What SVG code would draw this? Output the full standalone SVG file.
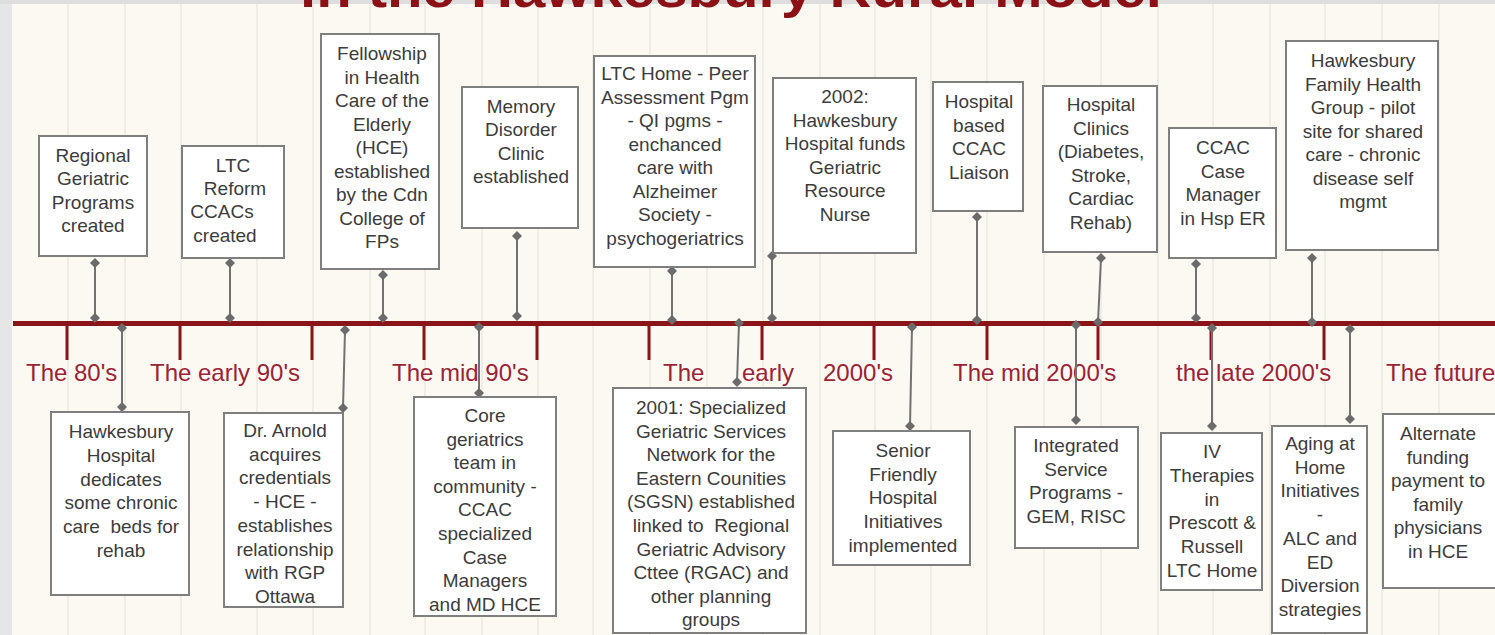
<svg xmlns="http://www.w3.org/2000/svg" width="1495" height="635" viewBox="0 0 1495 635">
<style>
.bg{fill:#fcf9f3}
.grid{stroke:#e4e0d9;stroke-width:1}
.box{fill:#ffffff;stroke:#7f7f7f;stroke-width:2}
.t{font-family:"Liberation Sans",Arial,sans-serif;font-size:19px;fill:#3c3c3c;text-anchor:middle}
.per{font-family:"Liberation Sans",Arial,sans-serif;font-size:24px;fill:#9b2335}
.tick{stroke:#8b1419;stroke-width:3}
.conn{stroke:#727272;stroke-width:2;fill:none;marker-start:url(#dia);marker-end:url(#dia)}
.title{font-family:"Liberation Sans",Arial,sans-serif;font-size:52px;font-weight:bold;fill:#8b1116}
</style>
<defs>
<marker id="dia" markerUnits="userSpaceOnUse" markerWidth="12" markerHeight="12" refX="6" refY="6" orient="0">
<path d="M6 1 L11 6 L6 11 L1 6 Z" fill="#6b6b6b"/>
</marker>
</defs>
<rect class="bg" x="0" y="0" width="1495" height="635"/>
<rect x="0" y="0" width="12" height="635" fill="#e6e6e6"/>
<rect x="0" y="0" width="1495" height="4" fill="#dedede"/>
<g id="grid">
<line class="grid" x1="68" y1="4" x2="68" y2="635"/>
<line class="grid" x1="125" y1="4" x2="125" y2="635"/>
<line class="grid" x1="181" y1="4" x2="181" y2="635"/>
<line class="grid" x1="257" y1="4" x2="257" y2="635"/>
<line class="grid" x1="313" y1="4" x2="313" y2="635"/>
<line class="grid" x1="370" y1="4" x2="370" y2="635"/>
<line class="grid" x1="425" y1="4" x2="425" y2="635"/>
<line class="grid" x1="482" y1="4" x2="482" y2="635"/>
<line class="grid" x1="538" y1="4" x2="538" y2="635"/>
<line class="grid" x1="593" y1="4" x2="593" y2="635"/>
<line class="grid" x1="650" y1="4" x2="650" y2="635"/>
<line class="grid" x1="707" y1="4" x2="707" y2="635"/>
<line class="grid" x1="763" y1="4" x2="763" y2="635"/>
<line class="grid" x1="820" y1="4" x2="820" y2="635"/>
<line class="grid" x1="875" y1="4" x2="875" y2="635"/>
<line class="grid" x1="931" y1="4" x2="931" y2="635"/>
<line class="grid" x1="987" y1="4" x2="987" y2="635"/>
<line class="grid" x1="1044" y1="4" x2="1044" y2="635"/>
<line class="grid" x1="1101" y1="4" x2="1101" y2="635"/>
<line class="grid" x1="1158" y1="4" x2="1158" y2="635"/>
<line class="grid" x1="1213" y1="4" x2="1213" y2="635"/>
<line class="grid" x1="1270" y1="4" x2="1270" y2="635"/>
<line class="grid" x1="1325" y1="4" x2="1325" y2="635"/>
<line class="grid" x1="1382" y1="4" x2="1382" y2="635"/>
<line class="grid" x1="1439" y1="4" x2="1439" y2="635"/>
</g>
<text class="title" x="300" y="7" textLength="862" lengthAdjust="spacingAndGlyphs">in the Hawkesbury Rural Model</text>
<g id="timeline">
<line x1="13" y1="323.5" x2="1495" y2="323.5" stroke="#8b1419" stroke-width="5"/>
<line class="tick" x1="67" y1="323" x2="67" y2="360"/>
<line class="tick" x1="180" y1="323" x2="180" y2="360"/>
<line class="tick" x1="312" y1="323" x2="312" y2="360"/>
<line class="tick" x1="424" y1="323" x2="424" y2="360"/>
<line class="tick" x1="537" y1="323" x2="537" y2="360"/>
<line class="tick" x1="649" y1="323" x2="649" y2="360"/>
<line class="tick" x1="762" y1="323" x2="762" y2="360"/>
<line class="tick" x1="874" y1="323" x2="874" y2="360"/>
<line class="tick" x1="987" y1="323" x2="987" y2="360"/>
<line class="tick" x1="1098" y1="323" x2="1098" y2="360"/>
<line class="tick" x1="1211" y1="323" x2="1211" y2="360"/>
<line class="tick" x1="1324" y1="323" x2="1324" y2="360"/>
<text class="per" x="26" y="381">The 80's</text>
<text class="per" x="150" y="381">The early 90's</text>
<text class="per" x="392" y="381">The mid 90's</text>
<text class="per" y="381"><tspan x="663">The</tspan><tspan x="742">early</tspan><tspan x="823">2000's</tspan></text>
<text class="per" x="953" y="381">The mid 2000's</text>
<text class="per" x="1176" y="381">the late 2000's</text>
<text class="per" x="1386" y="381">The future</text>
</g>
<g id="connectors">
<line class="conn" x1="95" y1="263" x2="95" y2="318"/>
<line class="conn" x1="230" y1="263" x2="230" y2="318"/>
<line class="conn" x1="383" y1="275" x2="383" y2="318"/>
<line class="conn" x1="517" y1="236" x2="517" y2="316"/>
<line class="conn" x1="672" y1="271" x2="672" y2="320"/>
<line class="conn" x1="772" y1="256" x2="772" y2="318"/>
<line class="conn" x1="977" y1="217" x2="977" y2="320"/>
<line class="conn" x1="1101" y1="258" x2="1098" y2="322"/>
<line class="conn" x1="1196" y1="264" x2="1196" y2="318"/>
<line class="conn" x1="1312" y1="258" x2="1312" y2="322"/>
<line class="conn" x1="122" y1="328" x2="122" y2="407"/>
<line class="conn" x1="345" y1="330" x2="343" y2="408"/>
<line class="conn" x1="479" y1="327" x2="479" y2="393"/>
<line class="conn" x1="739" y1="323" x2="737" y2="382"/>
<line class="conn" x1="912" y1="327" x2="910" y2="426"/>
<line class="conn" x1="1076" y1="325" x2="1076" y2="420"/>
<line class="conn" x1="1212" y1="328" x2="1212" y2="426"/>
<line class="conn" x1="1350" y1="329" x2="1350" y2="419"/>
</g>
<g id="n-regional">
<rect class="box" x="39" y="136" width="108" height="120"/>
<text class="t"><tspan x="93" y="162">Regional</tspan><tspan x="93" y="185">Geriatric</tspan><tspan x="93" y="209">Programs</tspan><tspan x="93" y="232">created</tspan></text>
</g>
<g id="n-ltc-reform">
<rect class="box" x="182" y="146" width="102" height="112"/>
<text class="t"><tspan x="233" y="172">LTC</tspan><tspan x="235" y="195">Reform</tspan><tspan x="222" y="218">CCACs</tspan><tspan x="225" y="242">created</tspan></text>
</g>
<g id="n-fellowship">
<rect class="box" x="321" y="34" width="118" height="235"/>
<text class="t"><tspan x="382" y="60">Fellowship</tspan><tspan x="382" y="83.5">in Health</tspan><tspan x="382" y="107">Care of the</tspan><tspan x="382" y="130.5">Elderly</tspan><tspan x="382" y="154">(HCE)</tspan><tspan x="382" y="177.5">established</tspan><tspan x="382" y="201">by the Cdn</tspan><tspan x="382" y="224.5">College of</tspan><tspan x="382" y="248">FPs</tspan></text>
</g>
<g id="n-memory">
<rect class="box" x="462" y="87" width="116" height="141"/>
<text class="t"><tspan x="521" y="113">Memory</tspan><tspan x="521" y="136.3">Disorder</tspan><tspan x="521" y="159.6">Clinic</tspan><tspan x="521" y="183">established</tspan></text>
</g>
<g id="n-ltc-home">
<rect class="box" x="594" y="56" width="161" height="211"/>
<text class="t"><tspan x="675" y="80">LTC Home - Peer</tspan><tspan x="675" y="103.5">Assessment Pgm</tspan><tspan x="675" y="127">- QI pgms -</tspan><tspan x="675" y="150.5">enchanced</tspan><tspan x="675" y="174">care with</tspan><tspan x="675" y="197.5">Alzheimer</tspan><tspan x="675" y="221">Society -</tspan><tspan x="675" y="244.5">psychogeriatrics</tspan></text>
</g>
<g id="n-2002">
<rect class="box" x="773" y="78" width="143" height="175"/>
<text class="t"><tspan x="845" y="103">2002:</tspan><tspan x="845" y="126.6">Hawkesbury</tspan><tspan x="845" y="150.2">Hospital funds</tspan><tspan x="845" y="173.8">Geriatric</tspan><tspan x="845" y="197.4">Resource</tspan><tspan x="845" y="221">Nurse</tspan></text>
</g>
<g id="n-hosp-ccac">
<rect class="box" x="933" y="82" width="90" height="129"/>
<text class="t"><tspan x="979" y="108">Hospital</tspan><tspan x="979" y="131.6">based</tspan><tspan x="979" y="155.2">CCAC</tspan><tspan x="979" y="178.8">Liaison</tspan></text>
</g>
<g id="n-clinics">
<rect class="box" x="1043" y="86" width="114" height="166"/>
<text class="t"><tspan x="1101" y="111">Hospital</tspan><tspan x="1101" y="134.6">Clinics</tspan><tspan x="1101" y="158.2">(Diabetes,</tspan><tspan x="1101" y="181.8">Stroke,</tspan><tspan x="1101" y="205.4">Cardiac</tspan><tspan x="1101" y="229">Rehab)</tspan></text>
</g>
<g id="n-ccac-er">
<rect class="box" x="1169" y="128" width="107" height="130"/>
<text class="t"><tspan x="1223" y="154">CCAC</tspan><tspan x="1223" y="177.7">Case</tspan><tspan x="1223" y="201.4">Manager</tspan><tspan x="1223" y="225">in Hsp ER</tspan></text>
</g>
<g id="n-fhg">
<rect class="box" x="1286" y="41" width="152" height="209"/>
<text class="t"><tspan x="1363" y="67">Hawkesbury</tspan><tspan x="1363" y="90.5">Family Health</tspan><tspan x="1363" y="114">Group - pilot</tspan><tspan x="1363" y="137.5">site for shared</tspan><tspan x="1363" y="161">care - chronic</tspan><tspan x="1363" y="184.5">disease self</tspan><tspan x="1363" y="208">mgmt</tspan></text>
</g>
<g id="n-chronic">
<rect class="box" x="51" y="412" width="138" height="183"/>
<text class="t"><tspan x="121" y="438">Hawkesbury</tspan><tspan x="121" y="461.8">Hospital</tspan><tspan x="121" y="485.6">dedicates</tspan><tspan x="121" y="509.4">some chronic</tspan><tspan x="121" y="533.2" xml:space="preserve">care  beds for</tspan><tspan x="121" y="557">rehab</tspan></text>
</g>
<g id="n-arnold">
<rect class="box" x="224" y="413" width="119" height="194"/>
<text class="t"><tspan x="285" y="437">Dr. Arnold</tspan><tspan x="285" y="460.7">acquires</tspan><tspan x="285" y="484.4">credentials</tspan><tspan x="285" y="508.1">- HCE -</tspan><tspan x="285" y="531.8">establishes</tspan><tspan x="285" y="555.5">relationship</tspan><tspan x="285" y="579.2">with RGP</tspan><tspan x="285" y="603">Ottawa</tspan></text>
</g>
<g id="n-core">
<rect class="box" x="414" y="397" width="142" height="219"/>
<text class="t"><tspan x="485" y="422">Core</tspan><tspan x="485" y="445.6">geriatrics</tspan><tspan x="485" y="469.2">team in</tspan><tspan x="485" y="492.8">community -</tspan><tspan x="485" y="516.4">CCAC</tspan><tspan x="485" y="540">specialized</tspan><tspan x="485" y="563.6">Case</tspan><tspan x="485" y="587.2">Managers</tspan><tspan x="485" y="610.8">and MD HCE</tspan></text>
</g>
<g id="n-sgsn">
<rect class="box" x="613" y="388" width="193" height="245"/>
<text class="t"><tspan x="711" y="414">2001: Specialized</tspan><tspan x="711" y="437.6">Geriatric Services</tspan><tspan x="711" y="461.2">Network for the</tspan><tspan x="711" y="484.8">Eastern Counities</tspan><tspan x="711" y="508.4">(SGSN) established</tspan><tspan x="711" y="532" xml:space="preserve">linked to  Regional</tspan><tspan x="711" y="555.6">Geriatric Advisory</tspan><tspan x="711" y="579.2">Cttee (RGAC) and</tspan><tspan x="711" y="602.8">other planning</tspan><tspan x="711" y="626.4">groups</tspan></text>
</g>
<g id="n-senior">
<rect class="box" x="833" y="431" width="137" height="134"/>
<text class="t"><tspan x="903" y="457">Senior</tspan><tspan x="903" y="480.7">Friendly</tspan><tspan x="903" y="504.4">Hospital</tspan><tspan x="903" y="528.1">Initiatives</tspan><tspan x="903" y="551.8">implemented</tspan></text>
</g>
<g id="n-integrated">
<rect class="box" x="1015" y="427" width="123" height="121"/>
<text class="t"><tspan x="1076" y="452">Integrated</tspan><tspan x="1076" y="475.7">Service</tspan><tspan x="1076" y="499.4">Programs -</tspan><tspan x="1076" y="523.1">GEM, RISC</tspan></text>
</g>
<g id="n-iv">
<rect class="box" x="1161" y="433" width="101" height="157"/>
<text class="t"><tspan x="1212" y="458">IV</tspan><tspan x="1212" y="481.8">Therapies</tspan><tspan x="1212" y="505.6">in</tspan><tspan x="1212" y="529.4">Prescott &amp;</tspan><tspan x="1212" y="553.2">Russell</tspan><tspan x="1212" y="577">LTC Home</tspan></text>
</g>
<g id="n-aging">
<rect class="box" x="1272" y="426" width="95" height="207"/>
<text class="t"><tspan x="1320" y="450">Aging at</tspan><tspan x="1320" y="473.7">Home</tspan><tspan x="1320" y="497.4">Initiatives</tspan><tspan x="1320" y="521.1">-</tspan><tspan x="1320" y="544.8">ALC and</tspan><tspan x="1320" y="568.5">ED</tspan><tspan x="1320" y="592.2">Diversion</tspan><tspan x="1320" y="615.9">strategies</tspan></text>
</g>
<g id="n-alternate">
<rect class="box" x="1383" y="414" width="125" height="174"/>
<text class="t"><tspan x="1438" y="440">Alternate</tspan><tspan x="1438" y="463.6">funding</tspan><tspan x="1438" y="487.2">payment to</tspan><tspan x="1438" y="510.8">family</tspan><tspan x="1438" y="534.4">physicians</tspan><tspan x="1438" y="558">in HCE</tspan></text>
</g>
</svg>
